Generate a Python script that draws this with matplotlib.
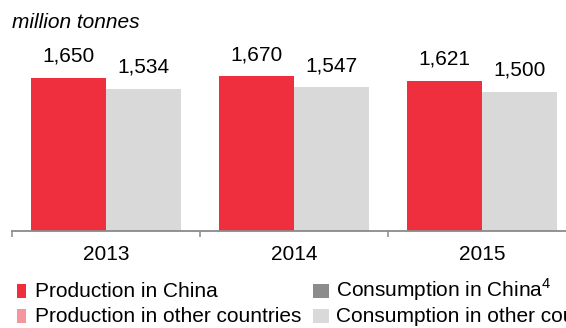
import matplotlib
matplotlib.use("Agg")
import matplotlib.pyplot as plt
from matplotlib.patches import Rectangle

plt.rcParams['font.family'] = ['Liberation Sans', 'DejaVu Sans']
plt.rcParams['mathtext.fontset'] = 'custom'
plt.rcParams['mathtext.rm'] = 'Liberation Sans'

years = ['2013', '2014', '2015']
production_china = [1650, 1670, 1621]
consumption_other = [1534, 1547, 1500]

legend_labels = ['Production in China', 'Production in other countries',
                 'Consumption in China$^{4}$', 'Consumption in other countries']

RED = '#EF2F3E'
PINK = '#F5969E'
DARK_GREY = '#8C8C8C'
LIGHT_GREY = '#D9D9D9'
AXIS_GREY = '#8A8A8A'

W, H = 566, 328
fig = plt.figure(figsize=(W / 100, H / 100), dpi=100)

# axes run a little past the right edge so the last category is cut off
ax = fig.add_axes([12 / W, (H - 231) / H, 564 / W, 185.6 / H])

x = list(range(len(years)))
ax.bar(x, production_china, width=-0.4, align='edge', color=RED)
ax.bar(x, consumption_other, width=0.4, align='edge', color=LIGHT_GREY)

for xi, v in zip(x, production_china):
    ax.annotate(f'{v:,}', (xi - 0.2, v), xytext=(0, 11.5), textcoords='offset points',
                ha='center', va='baseline', fontsize=15)
for xi, v in zip(x, consumption_other):
    ax.annotate(f'{v:,}', (xi + 0.2, v), xytext=(0, 11.5), textcoords='offset points',
                ha='center', va='baseline', fontsize=15)

ax.set_xlim(-0.5, 2.5)
ax.set_ylim(0, 2000)
for side in ['left', 'right', 'top']:
    ax.spines[side].set_visible(False)
ax.spines['bottom'].set_color(AXIS_GREY)
ax.spines['bottom'].set_linewidth(1.3)
ax.set_yticks([])

# boundary ticks between categories, year labels centred underneath
ax.set_xticks([-0.5, 0.5, 1.5, 2.5])
ax.set_xticklabels([])
ax.tick_params(axis='x', which='major', direction='out', length=4.5,
               width=1.1, color=AXIS_GREY)
ax.set_xticks(x, minor=True)
ax.set_xticklabels(years, minor=True, fontsize=15)
ax.tick_params(axis='x', which='minor', length=0, pad=10)

fig.text(12 / W, 1 - 28 / H, 'million tonnes', fontsize=15, style='italic',
         va='baseline', ha='left')

# legend, two columns
entries = [
    (16.5, 9, 35, 297, RED, legend_labels[0]),
    (16.5, 9, 35, 322, PINK, legend_labels[1]),
    (313, 16, 336.5, 297, DARK_GREY, legend_labels[2]),
    (313, 16, 336.5, 322, LIGHT_GREY, legend_labels[3]),
]
for sx, sw, tx, base, color, label in entries:
    fig.add_artist(Rectangle((sx / W, 1 - (base + 1) / H), sw / W, 14 / H,
                             transform=fig.transFigure, color=color, lw=0))
    fig.text(tx / W, 1 - base / H, label, fontsize=15, va='baseline', ha='left')

fig.savefig('out.png', dpi=100)
